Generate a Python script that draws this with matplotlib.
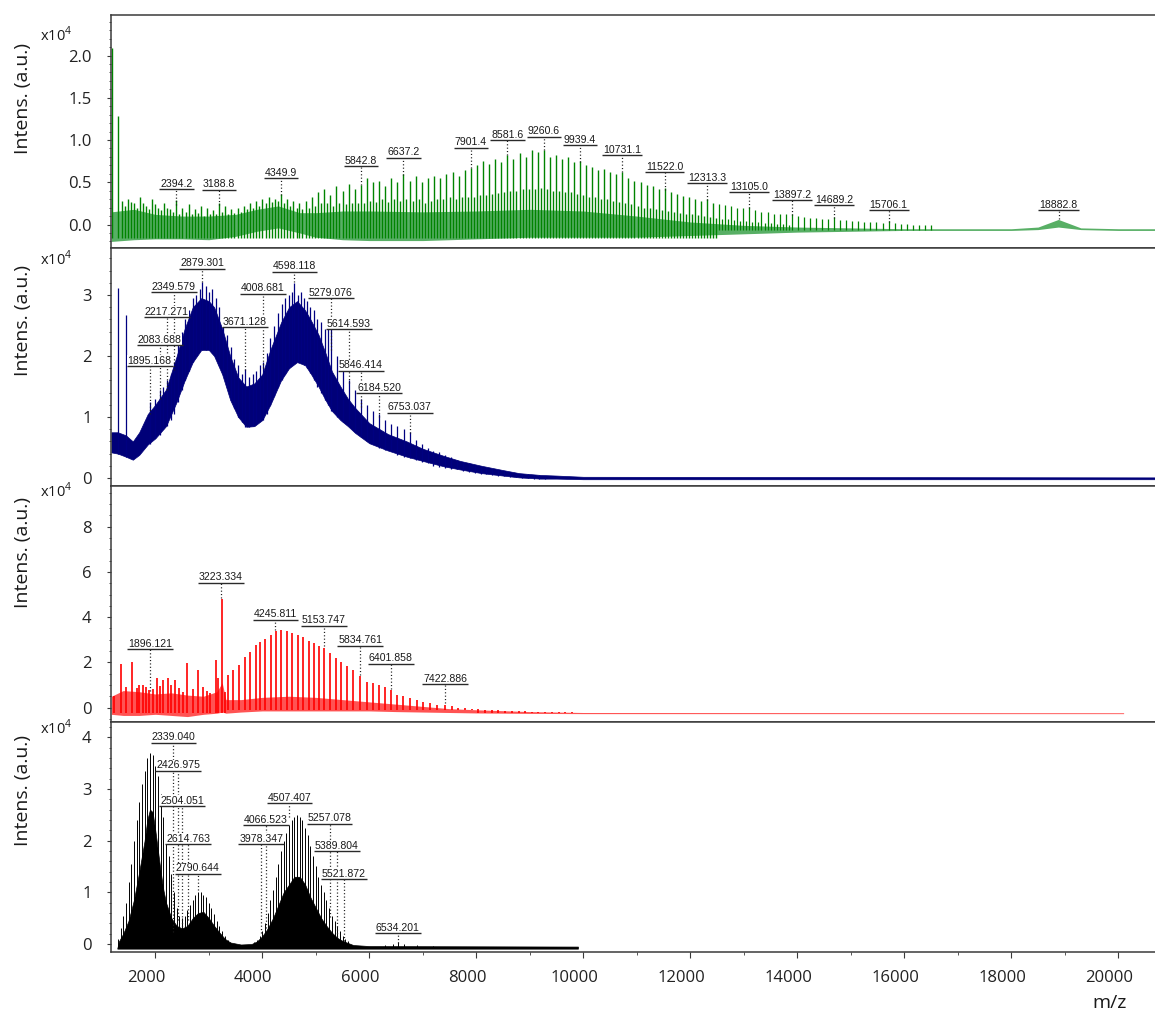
import matplotlib
matplotlib.use('Agg')
import matplotlib.pyplot as plt
import numpy as np
from matplotlib.font_manager import FontProperties
from matplotlib.ticker import MultipleLocator, FormatStrFormatter
from matplotlib.transforms import ScaledTranslation

plt.rcParams['font.family'] = ['Open Sans', 'DejaVu Sans']

# ---------------- data: m/z and intensity (x10^4) ----------------
# top spectrum (green)
green_peak_mz = [
    1190, 1296, 1376, 1430, 1489, 1540, 1602, 1660, 1715, 1770, 1828, 1890, 1941, 2000, 2055, 2110, 2168, 2220, 2281, 2340,
    2394, 2450, 2507, 2565, 2621, 2680, 2734, 2790, 2848, 2905, 2961, 3020, 3075, 3130, 3189, 3250, 3305, 3360, 3421, 3480,
    3537, 3595, 3653, 3710, 3769, 3830, 3886, 3945, 4002, 4060, 4118, 4175, 4234, 4290, 4350, 4410, 4465, 4520, 4580, 4640,
    4695, 4750, 4810, 4870, 4925, 4985, 5040, 5100, 5155, 5210, 5270, 5330, 5385, 5440, 5500, 5560, 5615, 5670, 5730, 5785,
    5843, 5900, 5956, 6013, 6070, 6126, 6183, 6240, 6297, 6353, 6410, 6467, 6524, 6580, 6637, 6695, 6752, 6810, 6867, 6925,
    6982, 7040, 7097, 7155, 7212, 7270, 7327, 7385, 7442, 7500, 7557, 7614, 7671, 7729, 7786, 7844, 7901, 7958, 8015, 8072,
    8128, 8185, 8241, 8298, 8355, 8412, 8468, 8525, 8582, 8638, 8695, 8751, 8808, 8865, 8921, 8978, 9034, 9091, 9147, 9204,
    9261, 9317, 9374, 9430, 9487, 9543, 9600, 9657, 9713, 9770, 9826, 9883, 9939, 9996, 10053, 10110, 10166, 10222, 10279, 10335,
    10392, 10448, 10505, 10561, 10618, 10675, 10731, 10788, 10844, 10900, 10957, 11014, 11070, 11126, 11183, 11240, 11296, 11352, 11409, 11465,
    11522, 11578, 11635, 11692, 11748, 11805, 11861, 11918, 11974, 12030, 12087, 12143, 12200, 12257, 12313, 12370, 12426, 12482, 12539, 12596,
    12652, 12709, 12766, 12822, 12879, 12935, 12992, 13049, 13105, 13162, 13218, 13275, 13331, 13388, 13444, 13500, 13558, 13614, 13671, 13727,
    13784, 13840, 13897, 14010, 14123, 14236, 14350, 14463, 14576, 14689, 14802, 14915, 15028, 15141, 15254, 15367, 15480, 15593, 15706, 15819,
    15932, 16045, 16158, 16271, 16384, 16497]
green_peak_int = [
    2.09, 1.28, 0.28, 0.22, 0.30, 0.27, 0.25, 0.20, 0.32, 0.25, 0.22, 0.18, 0.30, 0.24, 0.20, 0.17, 0.26, 0.20, 0.18, 0.15,
    0.29, 0.12, 0.20, 0.15, 0.24, 0.12, 0.18, 0.14, 0.22, 0.10, 0.20, 0.13, 0.17, 0.12, 0.25, 0.15, 0.22, 0.12, 0.18, 0.14,
    0.20, 0.15, 0.22, 0.18, 0.25, 0.20, 0.28, 0.22, 0.30, 0.25, 0.32, 0.27, 0.30, 0.28, 0.36, 0.25, 0.30, 0.22, 0.28, 0.20,
    0.25, 0.18, 0.28, 0.20, 0.32, 0.22, 0.38, 0.25, 0.42, 0.25, 0.35, 0.22, 0.45, 0.25, 0.40, 0.24, 0.48, 0.25, 0.42, 0.26,
    0.47, 0.25, 0.55, 0.28, 0.50, 0.27, 0.52, 0.30, 0.45, 0.27, 0.55, 0.30, 0.50, 0.28, 0.60, 0.30, 0.52, 0.28, 0.58, 0.30,
    0.50, 0.25, 0.55, 0.28, 0.58, 0.30, 0.55, 0.30, 0.60, 0.32, 0.62, 0.30, 0.58, 0.32, 0.64, 0.33, 0.67, 0.33, 0.70, 0.35,
    0.75, 0.35, 0.72, 0.36, 0.78, 0.37, 0.74, 0.38, 0.82, 0.40, 0.78, 0.40, 0.85, 0.42, 0.80, 0.42, 0.88, 0.42, 0.86, 0.43,
    0.88, 0.42, 0.80, 0.40, 0.82, 0.40, 0.78, 0.38, 0.80, 0.38, 0.74, 0.36, 0.75, 0.35, 0.70, 0.33, 0.68, 0.32, 0.64, 0.30,
    0.66, 0.30, 0.62, 0.28, 0.60, 0.27, 0.62, 0.25, 0.55, 0.24, 0.52, 0.22, 0.50, 0.20, 0.47, 0.20, 0.45, 0.18, 0.42, 0.17,
    0.43, 0.16, 0.38, 0.15, 0.36, 0.14, 0.34, 0.13, 0.33, 0.12, 0.30, 0.11, 0.28, 0.10, 0.30, 0.09, 0.26, 0.08, 0.24, 0.07,
    0.23, 0.06, 0.22, 0.05, 0.20, 0.04, 0.19, 0.04, 0.21, 0.03, 0.17, 0.03, 0.15, 0.02, 0.15, 0.02, 0.13, 0.01, 0.12, 0.01,
    0.12, 0.00, 0.13, 0.10, 0.09, 0.08, 0.08, 0.07, 0.06, 0.09, 0.05, 0.05, 0.04, 0.04, 0.03, 0.03, 0.03, 0.02, 0.04, 0.02,
    0.01, 0.01, 0.00, 0.00, -0.01, -0.01]
green_band_mz = [1180, 1600, 2000, 2500, 3000, 3500, 3900, 4300, 4700, 5000, 5500, 6000, 7000, 8000, 9000,
                 10000, 11000, 12000, 13000, 14000, 15000, 16000, 17000, 18000, 18500, 18880, 19300, 20000, 20780]
green_band_lo = [-0.20, -0.18, -0.17, -0.17, -0.18, -0.14, -0.08, -0.04, -0.10, -0.15, -0.18, -0.19, -0.19, -0.17, -0.15,
                 -0.15, -0.15, -0.13, -0.11, -0.09, -0.08, -0.07, -0.07, -0.07, -0.06, -0.03, -0.06, -0.07, -0.07]
green_band_hi = [0.15, 0.18, 0.12, 0.10, 0.10, 0.12, 0.18, 0.22, 0.14, 0.14, 0.16, 0.16, 0.15, 0.16, 0.18,
                 0.16, 0.10, 0.03, -0.01, -0.03, -0.04, -0.05, -0.05, -0.05, -0.03, 0.06, -0.04, -0.05, -0.05]
green_labels = ['2394.2', '3188.8', '4349.9', '5842.8', '6637.2', '7901.4', '8581.6', '9260.6', '9939.4',
                '10731.1', '11522.0', '12313.3', '13105.0', '13897.2', '14689.2', '15706.1', '18882.8']
green_label_y = [0.42, 0.41, 0.55, 0.69, 0.79, 0.91, 1.00, 1.04, 0.94, 0.82, 0.62, 0.49, 0.38, 0.29, 0.23, 0.17, 0.17]
green_label_end = [0.23, 0.23, 0.35, 0.47, 0.59, 0.67, 0.82, 0.88, 0.74, 0.62, 0.41, 0.29, 0.20, 0.11, 0.08, 0.03, 0.06]

# second spectrum (navy)
blue_band_mz = [1180, 1300, 1450, 1580, 1700, 1860, 2000, 2200, 2400, 2550, 2700, 2860, 3000, 3100, 3250, 3400,
                3550, 3700, 3850, 4000, 4150, 4350, 4500, 4650, 4800, 4900, 5050, 5180, 5300, 5460, 5600, 5735,
                6000, 6350, 6700, 7000, 7400, 7700, 8100, 8500, 8800, 9200, 9500, 10000, 20780]
blue_band_lo = [0.42, 0.40, 0.35, 0.30, 0.38, 0.55, 0.65, 0.85, 1.25, 1.60, 1.90, 2.10, 2.10, 2.00, 1.70, 1.28,
                1.00, 0.84, 0.85, 0.95, 1.20, 1.60, 1.80, 1.90, 1.85, 1.72, 1.50, 1.28, 1.10, 0.95, 0.85, 0.74,
                0.57, 0.45, 0.35, 0.28, 0.19, 0.14, 0.08, 0.04, 0.01, -0.01, -0.01, -0.02, -0.02]
blue_band_hi = [0.75, 0.75, 0.70, 0.60, 0.75, 1.05, 1.20, 1.45, 2.00, 2.45, 2.80, 2.95, 2.90, 2.80, 2.45, 2.00,
                1.65, 1.50, 1.55, 1.70, 2.10, 2.55, 2.80, 2.90, 2.75, 2.60, 2.35, 2.05, 1.75, 1.50, 1.30, 1.15,
                0.90, 0.72, 0.60, 0.48, 0.36, 0.28, 0.20, 0.13, 0.08, 0.05, 0.04, 0.02, 0.01]
blue_peak_mz = [1310, 1448, 1895, 1990, 2083, 2150, 2217, 2285, 2350, 2420, 2490, 2560, 2630, 2700, 2770, 2830,
                2880, 2940, 3000, 3060, 3130, 3200, 3270, 3340, 3410, 3480, 3550, 3620, 3680, 3750, 3820, 3890,
                3960, 4010, 4080, 4150, 4220, 4290, 4360, 4430, 4500, 4560, 4600, 4660, 4720, 4780, 4840, 4900,
                4960, 5030, 5100, 5170, 5230, 5280, 5390, 5500, 5615, 5730, 5846, 5960, 6070, 6185, 6295, 6410,
                6520, 6640, 6753, 6865, 6980, 7090, 7200, 7310, 7420, 7530, 7640, 7750, 7860, 7970, 8080, 8190,
                8300, 8410, 8520, 8630, 8740, 8850, 8960, 9070, 9180, 9290]
blue_peak_int = [3.11, 2.67, 1.25, 1.30, 1.45, 1.50, 1.60, 1.70, 1.90, 2.20, 2.40, 2.60, 2.75, 2.95, 3.00, 3.10,
                 3.22, 3.15, 3.05, 3.10, 2.95, 2.80, 2.60, 2.35, 2.15, 1.95, 1.85, 1.70, 1.78, 1.65, 1.70, 1.75,
                 1.85, 1.90, 2.05, 2.30, 2.50, 2.70, 2.85, 2.95, 3.00, 3.05, 3.20, 3.00, 3.05, 2.95, 2.90, 2.80,
                 2.75, 2.60, 2.55, 2.45, 2.50, 2.48, 2.00, 1.90, 1.60, 1.45, 1.30, 1.20, 1.10, 1.05, 0.95, 0.88,
                 0.85, 0.80, 0.75, 0.62, 0.56, 0.50, 0.45, 0.42, 0.38, 0.34, 0.30, 0.27, 0.24, 0.21, 0.19, 0.17,
                 0.15, 0.13, 0.11, 0.10, 0.08, 0.07, 0.06, 0.05, 0.05, 0.04]
blue_peak_floor = [0.40, 0.35, 0.55, 0.65, 0.70, 0.80, 0.85, 0.95, 1.05, 1.25, 1.45, 1.60, 1.75, 1.90, 2.00, 2.10,
                   2.10, 2.10, 2.10, 2.05, 2.00, 1.85, 1.70, 1.50, 1.28, 1.15, 1.00, 0.92, 0.84, 0.84, 0.85, 0.90,
                   0.95, 0.95, 1.05, 1.20, 1.35, 1.50, 1.60, 1.70, 1.80, 1.85, 1.90, 1.90, 1.88, 1.85, 1.80, 1.72,
                   1.60, 1.50, 1.40, 1.28, 1.20, 1.10, 1.00, 0.92, 0.85, 0.75, 0.68, 0.60, 0.55, 0.50, 0.46, 0.44,
                   0.38, 0.35, 0.33, 0.30, 0.27, 0.25, 0.20, 0.18, 0.16, 0.15, 0.14, 0.12, 0.10, 0.08, 0.07, 0.06,
                   0.05, 0.04, 0.03, 0.02, 0.01, 0.00, 0.00, -0.01, -0.01, -0.01]
blue_labels = ['1895.168', '2083.688', '2217.271', '2349.579', '2879.301', '3671.128', '4008.681',
               '4598.118', '5279.076', '5614.593', '5846.414', '6184.520', '6753.037']
blue_label_y = [1.83, 2.18, 2.64, 3.05, 3.43, 2.47, 3.02, 3.38, 2.95, 2.44, 1.76, 1.39, 1.07]
blue_label_end = [1.05, 1.30, 1.44, 1.77, 3.22, 1.77, 1.80, 3.22, 2.10, 1.55, 1.17, 1.00, 0.73]

# third spectrum (red)
red_peak_mz = [1228, 1353, 1450, 1559, 1650, 1700, 1776, 1830, 1888, 1950, 2026, 2090, 2150, 2243, 2300, 2368,
               2450, 2520, 2598, 2700, 2804, 2900, 2960, 3022, 3134, 3180, 3241, 3303,
               3365, 3458, 3570, 3677, 3770, 3877, 3957, 4051, 4157, 4250, 4350, 4456, 4561, 4661, 4766, 4873,
               4972, 5065, 5159, 5266, 5372, 5477, 5589, 5701, 5826, 5951, 6075, 6187, 6294, 6406, 6524, 6636,
               6761, 6886, 7010, 7135, 7260, 7415, 7540, 7664, 7789, 7914, 8038, 8163, 8290, 8410, 8540, 8660,
               8790, 8910, 9040, 9160, 9290, 9410, 9540, 9660, 9790]
red_peak_int = [0.50, 1.93, 0.90, 2.00, 0.85, 1.00, 1.00, 0.90, 0.78, 0.80, 1.30, 0.95, 1.23, 1.30, 1.00, 1.20,
                0.85, 0.70, 1.96, 0.80, 1.66, 0.90, 0.75, 0.63, 2.10, 1.30, 4.79, 0.70,
                1.44, 1.66, 1.88, 2.22, 2.47, 2.77, 2.92, 3.05, 3.20, 3.40, 3.42, 3.38, 3.30, 3.20, 3.10, 2.95,
                2.85, 2.72, 2.65, 2.40, 2.18, 2.03, 1.84, 1.66, 1.40, 1.15, 1.08, 1.00, 0.92, 0.78, 0.56, 0.50,
                0.41, 0.34, 0.26, 0.19, 0.12, 0.12, 0.05, 0.00, -0.03, -0.06, -0.08, -0.09, -0.12, -0.13, -0.14, -0.15,
                -0.16, -0.17, -0.18, -0.18, -0.19, -0.20, -0.20, -0.21, -0.21]
red_floor_edges = [0, 3330, 8000, 30000]
red_floor_levels = [-0.25, -0.12, -0.25]
red_band_mz = [1180, 1400, 1700, 2000, 2300, 2600, 2900, 3150, 3250, 3320, 3600, 4000, 4500, 5000,
               5500, 6000, 6500, 7000, 7500, 8000, 9000, 10000, 20100]
red_band_lo = [-0.30, -0.35, -0.35, -0.30, -0.35, -0.40, -0.30, -0.25, -0.20, -0.25, -0.20, -0.15, -0.15, -0.15,
               -0.15, -0.15, -0.18, -0.20, -0.22, -0.24, -0.26, -0.27, -0.27]
red_band_hi = [0.50, 0.75, 0.70, 0.60, 0.65, 0.55, 0.50, 0.70, 1.10, 0.35, 0.35, 0.45, 0.50, 0.45,
               0.35, 0.25, 0.15, 0.05, -0.05, -0.10, -0.18, -0.22, -0.23]
red_labels = ['1896.121', '3223.334', '4245.811', '5153.747', '5834.761', '6401.858', '7422.886']
red_label_y = [2.58, 5.53, 3.88, 3.62, 2.73, 1.93, 1.04]
red_label_end = [0.75, 4.85, 3.45, 2.70, 1.45, 0.80, 0.20]

# bottom spectrum (black)
black_peak_mz = [1300, 1350, 1400, 1450, 1500, 1550, 1600, 1650, 1700, 1750, 1800, 1850, 1900, 1950, 2000,
                 2050, 2100, 2150, 2200, 2250, 2300, 2350, 2400, 2450, 2500, 2550, 2600, 2650, 2700, 2750,
                 2800, 2850, 2900, 2950, 3000, 3050, 3100, 3150, 3200, 3250, 3300, 3350, 3400,
                 3850, 3900, 3950, 4000, 4050, 4100, 4150, 4200, 4250, 4300, 4350, 4400, 4450, 4500, 4550,
                 4600, 4650, 4700, 4750, 4800, 4850, 4900, 4950, 5000, 5050, 5100, 5150, 5200, 5250, 5300,
                 5350, 5400, 5450, 5500, 5550, 5600,
                 6300, 6450, 6536, 6650, 6900, 7200]
black_peak_int = [0.10, 0.30, 0.55, 0.80, 1.20, 1.55, 2.00, 2.40, 2.75, 3.10, 3.35, 3.60, 3.70, 3.65, 3.45,
                  3.25, 2.90, 2.45, 2.10, 1.70, 1.35, 1.00, 0.70, 0.55, 0.50, 0.55, 0.65, 0.75, 0.85, 0.95,
                  1.00, 1.00, 0.95, 0.90, 0.80, 0.70, 0.58, 0.45, 0.35, 0.25, 0.15, 0.08, 0.04,
                  0.04, 0.08, 0.15, 0.25, 0.40, 0.60, 0.85, 1.05, 1.30, 1.55, 1.80, 2.00, 2.15, 2.30, 2.40,
                  2.45, 2.50, 2.45, 2.40, 2.25, 2.10, 1.90, 1.70, 1.50, 1.30, 1.15, 1.00, 0.85, 0.70, 0.55,
                  0.45, 0.35, 0.25, 0.15, 0.10, 0.05,
                  -0.02, 0.00, 0.04, 0.00, -0.02, -0.03]
black_fill_mz = [1290, 1320, 1400, 1500, 1600, 1700, 1800, 1850, 1900, 1950, 2000, 2050, 2100, 2150, 2200,
                 2300, 2400, 2500, 2600, 2700, 2800, 2900, 3000, 3100, 3200, 3300, 3400, 3600, 3800, 3900,
                 4000, 4100, 4200, 4300, 4400, 4500, 4600, 4700, 4800, 4900, 5000, 5100, 5200, 5300, 5400,
                 5500, 5600, 5700, 6000, 9900]
black_fill_top = [-0.08, 0.05, 0.20, 0.45, 0.85, 1.40, 2.00, 2.40, 2.60, 2.55, 2.20, 1.80, 1.40, 1.05, 0.80,
                  0.50, 0.35, 0.30, 0.35, 0.50, 0.60, 0.62, 0.50, 0.35, 0.22, 0.10, 0.03, -0.01, 0.00, 0.05,
                  0.15, 0.30, 0.50, 0.75, 1.00, 1.15, 1.30, 1.30, 1.15, 0.90, 0.70, 0.50, 0.35, 0.22, 0.12,
                  0.06, 0.02, -0.02, -0.04, -0.05]
black_labels = ['2339.040', '2426.975', '2504.051', '2614.763', '2790.644', '3978.347', '4066.523',
                '4507.407', '5257.078', '5389.804', '5521.872', '6534.201']
black_label_y = [3.89, 3.35, 2.67, 1.93, 1.36, 1.93, 2.30, 2.72, 2.33, 1.80, 1.25, 0.21]
black_label_end = [0.24, 0.46, 0.33, 0.46, 1.04, 0.21, 0.31, 2.46, 0.53, 0.14, 0.05, 0.02]

# ---------------- figure ----------------
W, H = 1155, 1019
fig = plt.figure(figsize=(W / 100, H / 100), dpi=100)

peak_prop = FontProperties(family='Liberation Sans', size=7.6)

X0, X1 = 1172, 20780
spine_col = '#3a3a3a'


def add_panel(top, bottom, ylim, major, minor, fmt):
    ax = fig.add_axes([111 / W, 1 - bottom / H, (1160 - 111) / W, (bottom - top) / H])
    ax.set_xlim(X0, X1)
    ax.set_ylim(*ylim)
    ax.yaxis.set_major_locator(MultipleLocator(major))
    ax.yaxis.set_minor_locator(MultipleLocator(minor))
    ax.yaxis.set_major_formatter(FormatStrFormatter(fmt))
    ax.tick_params(axis='y', which='major', direction='out', length=3, width=0.8,
                   color=spine_col, pad=11, labelsize=12, labelcolor='#222222')
    ax.tick_params(axis='y', which='minor', direction='out', length=1.8, width=0.6, color=spine_col)
    ax.tick_params(axis='x', which='both', bottom=False, labelbottom=False)
    for s in ax.spines.values():
        s.set_color(spine_col)
        s.set_linewidth(1.1)
    return ax


ax1 = add_panel(14.7, 247.5, (-0.272, 2.483), 0.5, 0.1, '%.1f')
ax2 = add_panel(247.5, 486, (-0.131, 3.779), 1, 0.2, '%d')
ax3 = add_panel(486, 722, (-0.64, 9.8), 2, 0.5, '%d')
ax4 = add_panel(722, 952, (-0.155, 4.294), 1, 0.2, '%d')

# x axis of the bottom panel
ax4.xaxis.set_major_locator(MultipleLocator(2000))
ax4.xaxis.set_minor_locator(MultipleLocator(1000))
ax4.tick_params(axis='x', which='major', bottom=True, labelbottom=True, direction='out',
                length=4, width=0.8, color=spine_col, pad=9, labelsize=12, labelcolor='#222222')
ax4.tick_params(axis='x', which='minor', bottom=True, direction='out', length=2, width=0.6, color=spine_col)
shift = ScaledTranslation(-0.09, 0, fig.dpi_scale_trans)
for lab in ax4.get_xticklabels():
    lab.set_transform(lab.get_transform() + shift)

# green
gmz = np.array(green_peak_mz)
gint = np.array(green_peak_int)
ax1.fill_between(green_band_mz, green_band_lo, green_band_hi, color='#17902a', alpha=0.72, lw=0)
near = gmz < 12500
ax1.vlines(gmz[near], -0.16, gint[near], color='#008400', lw=1.0)
ax1.vlines(gmz[~near], -0.07, gint[~near], color='#008400', lw=0.9)

# navy
ax2.fill_between(blue_band_mz, blue_band_lo, blue_band_hi, color='#000078', lw=0.5)
ax2.vlines(blue_peak_mz, blue_peak_floor, blue_peak_int, color='#000080', lw=0.9)

# red
rmz = np.array(red_peak_mz)
rfloor = np.array(red_floor_levels)[np.digitize(rmz, red_floor_edges) - 1]
ax3.fill_between(red_band_mz, red_band_lo, red_band_hi, color='#ff1a1a', alpha=0.75, lw=0)
ax3.vlines(rmz, rfloor, red_peak_int, color='#ff0000', lw=1.2)

# black
ax4.fill_between(black_fill_mz, -0.09, black_fill_top, color='black', lw=0.5)
ax4.vlines(black_peak_mz, -0.07, black_peak_int, color='black', lw=0.7)

# peak labels
placed = []


def label_peaks(ax, labels, ys, ends):
    for lab, y, e in zip(labels, ys, ends):
        x = float(lab)
        ax.plot([x, x], [e, y], color='#1e1e1e', lw=0.9, ls=(0, (0.9, 1.8)), zorder=4)
        t = ax.annotate(lab, (x, y), xytext=(0, 0.3), textcoords='offset points',
                        ha='center', va='bottom', fontproperties=peak_prop,
                        color='#1a1a1a', zorder=6,
                        bbox=dict(fc='white', ec='none', pad=0.4))
        placed.append((ax, t, y))


label_peaks(ax1, green_labels, green_label_y, green_label_end)
label_peaks(ax2, blue_labels, blue_label_y, blue_label_end)
label_peaks(ax3, red_labels, red_label_y, red_label_end)
label_peaks(ax4, black_labels, black_label_y, black_label_end)

fig.canvas.draw()
for ax, t, y in placed:
    bb = t.get_window_extent()
    inv = ax.transData.inverted()
    xa = inv.transform((bb.x0 - 1, 0))[0]
    xb = inv.transform((bb.x1 + 1, 0))[0]
    ax.plot([xa, xb], [y, y], color='#2a2a2a', lw=1.0, zorder=7, solid_capstyle='butt')

# axis texts
for yc in [98, 320, 552, 790]:
    fig.text(23 / W, 1 - yc / H, 'Intens. (a.u.)', rotation=90, ha='center', va='center',
             fontsize=14, color='#1a1a1a')
for yc in [35, 259, 491, 728]:
    fig.text(40 / W, 1 - yc / H, r'x10$^{\mathregular{4}}$', ha='left', va='center',
             fontsize=10.5, color='#1a1a1a')
fig.text(1110 / W, 1 - 1003 / H, 'm/z', ha='center', va='center', fontsize=14, color='#1a1a1a')

fig.savefig('out.png', dpi=100)
